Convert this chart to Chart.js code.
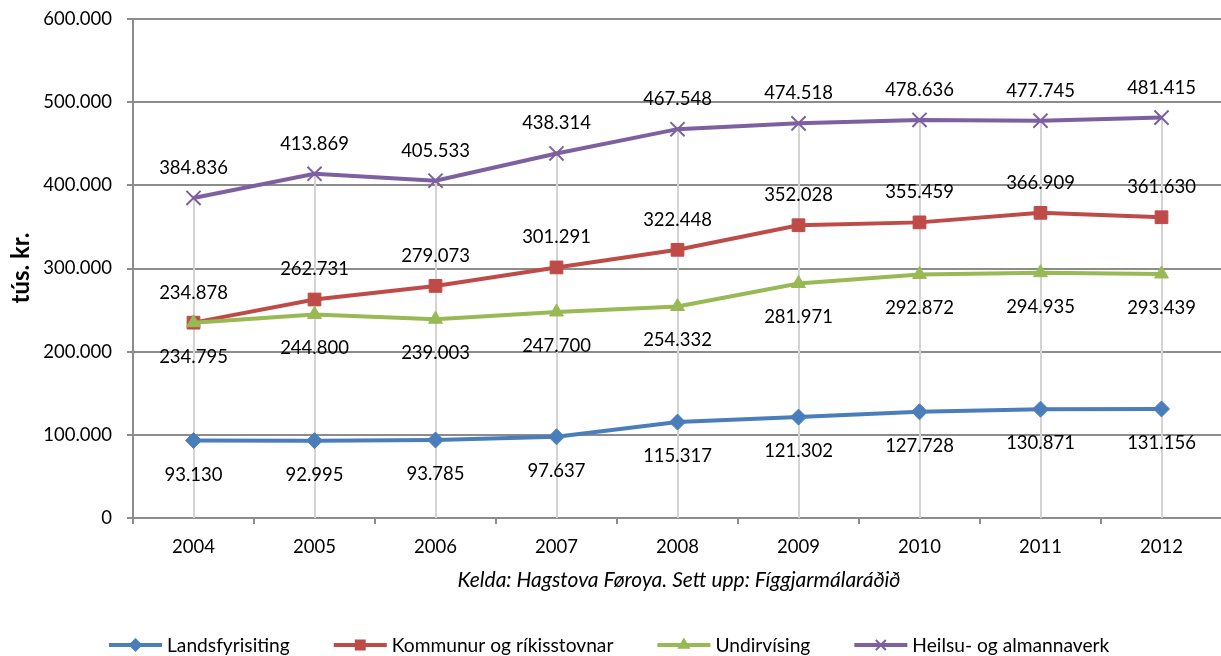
<!DOCTYPE html>
<html>
<head>
<meta charset="utf-8">
<script src="https://cdn.jsdelivr.net/npm/chart.js@4.4.1/dist/chart.umd.min.js"></script>
<style>
  html, body { margin: 0; padding: 0; background: #fff; overflow: hidden; }
  #wrap { width: 1221px; height: 656px; overflow: hidden; }
</style>
</head>
<body>
<div id="wrap"><canvas id="c" width="1234" height="656"></canvas></div>
<script>
const years = ['2004','2005','2006','2007','2008','2009','2010','2011','2012'];
const landsfyrisiting = [93130, 92995, 93785, 97637, 115317, 121302, 127728, 130871, 131156];
const kommunur = [234878, 262731, 279073, 301291, 322448, 352028, 355459, 366909, 361630];
const undirvising = [234795, 244800, 239003, 247700, 254332, 281971, 292872, 294935, 293439];
const heilsu = [384836, 413869, 405533, 438314, 467548, 474518, 478636, 477745, 481415];
const seriesNames = ['Landsfyrisiting', 'Kommunur og ríkisstovnar', 'Undirvísing', 'Heilsu- og almannaverk'];
const yMin = 0, yMax = 600000, yStep = 100000;
const axisTitle = 'tús. kr.';
const caption = 'Kelda: Hagstova Føroya. Sett upp: Fíggjarmálaráðið';

const colors = ['#4A7EBB', '#BE4B48', '#98B954', '#7D60A0'];
const markers = ['rectRot', 'rect', 'triangle', 'crossRot'];
const radii = [8, 9, 8, 10];
const labelPos = ['below', 'above', 'below', 'above'];
const FONT = 'Lato, "Open Sans", sans-serif';

function fmt(v) {
  return v === 0 ? '0' : String(v).replace(/\B(?=(\d{3})+(?!\d))/g, '.');
}

const seriesData = [landsfyrisiting, kommunur, undirvising, heilsu];

const dropLines = {
  id: 'dropLines',
  beforeDatasetsDraw(chart) {
    const ctx = chart.ctx, area = chart.chartArea;
    const n = chart.data.labels.length;
    ctx.save();
    ctx.strokeStyle = '#D4D4D4';
    ctx.lineWidth = 2;
    for (let i = 0; i < n; i++) {
      let topY = Infinity, x = null;
      chart.data.datasets.forEach((ds, d) => {
        const el = chart.getDatasetMeta(d).data[i];
        if (el) { topY = Math.min(topY, el.y); x = el.x; }
      });
      if (x === null) continue;
      ctx.beginPath();
      ctx.moveTo(Math.round(x), topY);
      ctx.lineTo(Math.round(x), area.bottom);
      ctx.stroke();
    }
    ctx.restore();
  }
};

const valueLabels = {
  id: 'valueLabels',
  afterDatasetsDraw(chart) {
    const ctx = chart.ctx;
    ctx.save();
    ctx.font = '18.5px ' + FONT;
    ctx.fillStyle = '#000';
    ctx.textAlign = 'center';
    ctx.textBaseline = 'middle';
    chart.data.datasets.forEach((ds, d) => {
      const meta = chart.getDatasetMeta(d);
      meta.data.forEach((el, i) => {
        const off = labelPos[d] === 'above' ? -30 : 34;
        ctx.fillText(fmt(ds.data[i]), el.x, el.y + off);
      });
    });
    ctx.restore();
  }
};

const extras = {
  id: 'extras',
  afterDraw(chart) {
    const ctx = chart.ctx;
    ctx.save();
    ctx.font = 'bold 24px ' + FONT;
    ctx.fillStyle = '#000';
    ctx.textAlign = 'center';
    ctx.textBaseline = 'middle';
    ctx.translate(21, 268);
    ctx.rotate(-Math.PI / 2);
    ctx.fillText(axisTitle, 0, 0);
    ctx.restore();

    ctx.save();
    ctx.font = 'italic 21px ' + FONT;
    ctx.fillStyle = '#000';
    ctx.textAlign = 'center';
    ctx.textBaseline = 'middle';
    ctx.fillText(caption, 679, 580);
    ctx.restore();

    // legend
    ctx.save();
    ctx.font = '19.2px ' + FONT;
    ctx.textBaseline = 'middle';
    ctx.textAlign = 'left';
    const lineLen = 53, gapText = 5, gapItem = 44;
    const widths = seriesNames.map(s => ctx.measureText(s).width);
    let x = 109;
    const y = 645;
    seriesNames.forEach((name, d) => {
      ctx.strokeStyle = colors[d];
      ctx.fillStyle = colors[d];
      ctx.lineWidth = 4;
      ctx.beginPath();
      ctx.moveTo(x, y);
      ctx.lineTo(x + lineLen, y);
      ctx.stroke();
      ctx.lineWidth = 2;
      Chart.helpers.drawPoint(ctx, {
        pointStyle: markers[d], radius: radii[d] * 0.7, borderWidth: 2
      }, x + lineLen / 2, y);
      ctx.fillStyle = '#000';
      ctx.fillText(name, x + lineLen + gapText, y + 1);
      x += lineLen + gapText + widths[d] + gapItem;
    });
    ctx.restore();
  }
};

const datasets = seriesData.map((arr, d) => ({
  label: seriesNames[d],
  data: arr,
  borderColor: colors[d],
  backgroundColor: colors[d],
  pointBackgroundColor: colors[d],
  pointBorderColor: colors[d],
  borderWidth: 4,
  pointStyle: markers[d],
  pointRadius: radii[d],
  pointHoverRadius: radii[d],
  pointBorderWidth: markers[d] === 'crossRot' ? 2 : 1,
  tension: 0,
  order: 3 - d
}));

new Chart(document.getElementById('c'), {
  type: 'line',
  data: { labels: years, datasets },
  options: {
    responsive: false,
    animation: false,
    devicePixelRatio: 1,
    layout: { padding: { top: 19, left: 0, right: 0, bottom: 78 } },
    plugins: { legend: { display: false }, tooltip: { enabled: false } },
    scales: {
      x: {
        type: 'category',
        offset: true,
        grid: {
          offset: true, drawOnChartArea: false, drawTicks: true,
          tickLength: 6, color: '#8C8C8C', lineWidth: 2
        },
        border: { color: '#8C8C8C', width: 2 },
        ticks: { color: '#000', font: { family: FONT, size: 18.5 }, padding: 12, maxRotation: 0 },
        afterFit(scale) { scale.height = 60; scale.paddingLeft = 0; scale.paddingRight = 0; }
      },
      y: {
        min: yMin, max: yMax,
        grid: { color: '#8C8C8C', lineWidth: 2, tickLength: 6, drawTicks: true },
        border: { color: '#8C8C8C', width: 2 },
        ticks: {
          stepSize: yStep, color: '#000', padding: 15,
          font: { family: FONT, size: 18.5 },
          callback: (v) => fmt(v)
        },
        afterFit(scale) { scale.width = 133; scale.paddingTop = 0; scale.paddingBottom = 0; }
      }
    }
  },
  plugins: [dropLines, valueLabels, extras]
});
</script>
</body>
</html>
